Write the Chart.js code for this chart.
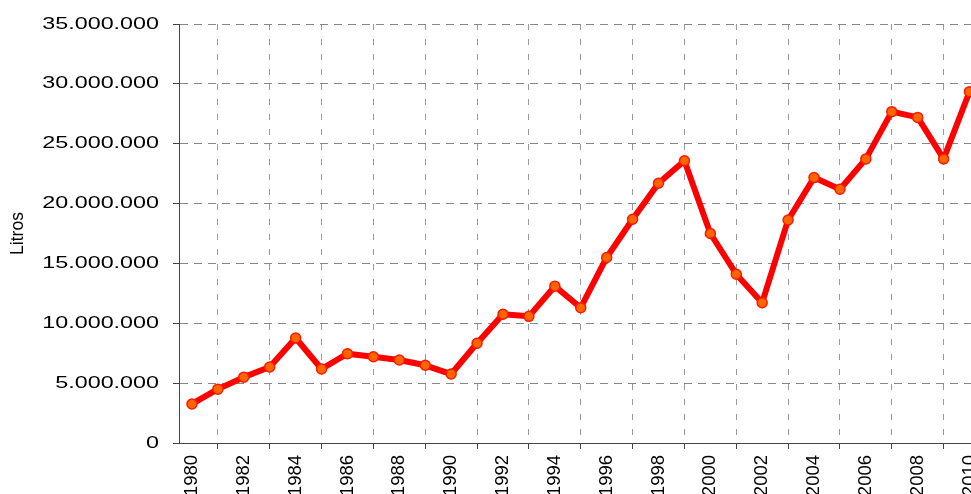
<!DOCTYPE html>
<html>
<head>
<meta charset="utf-8">
<script src="https://cdn.jsdelivr.net/npm/chart.js@4/dist/chart.umd.min.js"></script>
<style>
  html,body{margin:0;padding:0;background:#fff;overflow:hidden;}
  #wrap{width:989px;height:510px;}
</style>
</head>
<body>
<div id="wrap"><canvas id="c" width="989" height="510"></canvas></div>
<script>
/* ---------- datos ---------- */
const years  = ['1980','1981','1982','1983','1984','1985','1986','1987','1988','1989',
                '1990','1991','1992','1993','1994','1995','1996','1997','1998','1999',
                '2000','2001','2002','2003','2004','2005','2006','2007','2008','2009','2010'];
const litros = [3260000, 4500000, 5500000, 6350000, 8770000, 6180000, 7460000, 7200000,
                6930000, 6490000, 5760000, 8330000, 10750000, 10580000, 13100000, 11300000,
                15500000, 18690000, 21700000, 23580000, 17500000, 14100000, 11720000, 18630000,
                22170000, 21200000, 23730000, 27680000, 27200000, 23730000, 29350000];
const yMax  = 35000000;
const yStep = 5000000;
const yTitle = 'Litros';

/* miles con punto: 35.000.000 */
const fmt = n => String(n).replace(/\B(?=(\d{3})+(?!\d))/g, '.');

/* etiquetas del eje Y algo "estiradas" como en el original */
const wideYLabels = {
  id: 'wideYLabels',
  afterDraw(chart){
    const s = chart.scales.y, ctx = chart.ctx;
    ctx.save();
    ctx.font = '16.8px "Liberation Sans", Arial, sans-serif';
    ctx.fillStyle = '#000';
    ctx.textAlign = 'right';
    ctx.textBaseline = 'middle';
    s.ticks.forEach(t => {
      ctx.save();
      ctx.translate(159, s.getPixelForValue(t.value));
      ctx.scale(1.39, 1);
      ctx.fillText(fmt(t.value), 0, 0);
      ctx.restore();
    });
    ctx.restore();
  }
};

new Chart(document.getElementById('c'), {
  type: 'line',
  data: {
    labels: years,
    datasets: [{
      data: litros,
      borderColor: '#ff0000',
      borderWidth: 6,
      borderJoinStyle: 'round',
      borderCapStyle: 'round',
      pointBackgroundColor: '#ff6600',
      pointBorderColor: '#ff1a00',
      pointBorderWidth: 1.5,
      pointRadius: 5,
      tension: 0
    }]
  },
  options: {
    responsive: false,
    animation: false,
    events: [],
    layout: {padding: {top: 24, left: 0, right: 0, bottom: 0}},
    plugins: {legend: {display: false}, tooltip: {enabled: false}},
    scales: {
      x: {
        offset: true,
        grid: {offset: true, color: '#9a9a9a', lineWidth: 1, tickLength: 6,
               tickColor: '#444', drawTicks: true},
        border: {display: true, color: '#444', width: 1, dash: [6, 9]},
        ticks: {
          autoSkip: false, minRotation: 90, maxRotation: 90, padding: 6,
          color: '#000', font: {family: '"Liberation Sans", Arial, sans-serif', size: 18.5},
          callback: (v, i) => i % 2 === 0 ? years[i] : null
        },
        afterFit: s => { s.height = 510 - 443; s.paddingLeft = 0; s.paddingRight = 0; }
      },
      y: {
        min: 0, max: yMax,
        grid: {color: '#888', lineWidth: 1, tickLength: 6, tickColor: '#444', drawTicks: true},
        border: {display: true, color: '#444', width: 1, dash: [8, 6]},
        ticks: {display: false, stepSize: yStep},
        title: {display: true, text: yTitle, color: '#000', padding: {top: 8, bottom: 0},
                font: {family: '"Liberation Sans", Arial, sans-serif', size: 17.5}},
        afterFit: s => { s.width = 179; }
      }
    }
  },
  plugins: [wideYLabels]
});
</script>
</body>
</html>
